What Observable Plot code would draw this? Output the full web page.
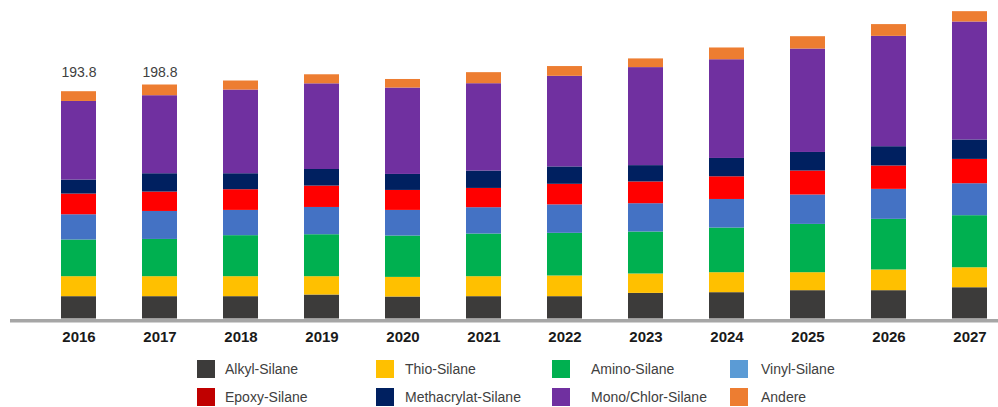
<!DOCTYPE html>
<html>
<head>
<meta charset="utf-8">
<script src="https://cdn.jsdelivr.net/npm/d3@7"></script>
<script src="https://cdn.jsdelivr.net/npm/@observablehq/plot@0.6"></script>
<style>
  html, body { margin: 0; padding: 0; background: #fff; }
  body { width: 998px; height: 407px; overflow: hidden; font-family: "Liberation Sans", Arial, sans-serif; }
  #chart svg { display: block; }
  #chart [aria-label^="x-axis"] text { font-weight: bold; fill: #1a1a1a; }
  #legend { display: grid; grid-template-columns: 179px 176px 178px 200px; row-gap: 10px; margin: 10px 0 0 197px; }
  .item { display: flex; align-items: center; height: 18px; font-size: 14px; color: #404040; }
  .sw { width: 18px; height: 18px; flex: none; }
</style>
</head>
<body>
<div id="chart"></div>
<div id="legend"></div>
<script>
const years = ["2016","2017","2018","2019","2020","2021","2022","2023","2024","2025","2026","2027"];
const seriesNames = ["Alkyl-Silane","Thio-Silane","Amino-Silane","Vinyl-Silane","Epoxy-Silane","Methacrylat-Silane","Mono/Chlor-Silane","Andere"];
const barColors = ["#3c3b3a","#ffc000","#00b050","#4472c4","#ff0000","#002060","#7030a0","#ed7d31"];
const legendColors = ["#3c3b3a","#ffc000","#00b050","#5b9bd5","#c00000","#002060","#7030a0","#ed7d31"];

const alkyl  = [19.0, 19.0, 19.0, 20.4, 18.7, 19.0, 19.0, 21.8, 22.4, 24.1, 24.1, 26.6];
const thio   = [17.0, 17.0, 17.0, 15.6, 16.7, 17.0, 17.6, 16.5, 17.0, 15.3, 17.6, 17.0];
const amino  = [31.2, 31.7, 34.9, 35.7, 35.2, 36.3, 36.3, 35.7, 38.0, 41.1, 43.1, 44.3];
const vinyl  = [21.5, 23.8, 21.5, 23.2, 21.8, 22.4, 24.2, 24.1, 24.3, 25.0, 25.5, 27.2];
const epoxy  = [17.6, 16.5, 17.6, 18.2, 17.0, 16.4, 17.5, 18.5, 19.3, 20.4, 19.9, 20.7];
const meth   = [11.9, 15.6, 13.6, 14.1, 13.6, 14.8, 14.8, 13.9, 15.6, 15.8, 16.4, 16.5];
const mono   = [66.9, 66.4, 71.2, 72.9, 73.5, 74.3, 77.1, 83.4, 84.0, 88.0, 93.9, 100.4];
const andere = [8.3, 9.1, 7.7, 7.7, 7.3, 9.4, 8.3, 7.4, 10.0, 10.5, 10.0, 8.8];

const labelYears = ["2016","2017"];
const labelTexts = ["193.8","198.8"];

const seriesValues = [alkyl, thio, amino, vinyl, epoxy, meth, mono, andere];
const rows = [];
seriesNames.forEach((s, si) => {
  years.forEach((y, yi) => rows.push({year: y, series: s, value: seriesValues[si][yi]}));
});
const totals = years.map((y, yi) => d3.sum(seriesValues, v => v[yi]));
const labelY = d3.max(labelYears, y => totals[years.indexOf(y)]);
const labels = labelYears.map((y, i) => ({year: y, text: labelTexts[i], y: labelY}));

const chart = Plot.plot({
  width: 998,
  height: 350,
  marginLeft: 10,
  marginRight: 0,
  marginTop: 0,
  marginBottom: 31.5,
  style: {fontFamily: '"Liberation Sans", Arial, sans-serif', fontSize: "15px", background: "#fff", overflow: "visible"},
  x: {domain: years, paddingInner: 0.57, paddingOuter: 0.376, align: 0.82, tickSize: 0, tickPadding: 12, label: null},
  y: {domain: [0, 271], axis: null},
  color: {domain: seriesNames, range: barColors},
  marks: [
    Plot.ruleY([0], {stroke: "#a6a6a6", strokeWidth: 3.5, dy: 1.8}),
    Plot.barY(rows, {x: "year", y: "value", fill: "series", order: seriesNames}),
    Plot.text(labels, {x: "year", y: "y", text: "text", dy: -12, fontSize: 14, fill: "#404040"})
  ]
});
document.getElementById("chart").appendChild(chart);

const legend = document.getElementById("legend");
const textGaps = [10, 11, 21, 13];
seriesNames.forEach((name, i) => {
  const item = document.createElement("div");
  item.className = "item";
  const sw = document.createElement("span");
  sw.className = "sw";
  sw.style.background = legendColors[i];
  sw.style.marginRight = textGaps[i % 4] + "px";
  const t = document.createElement("span");
  t.textContent = name;
  item.appendChild(sw);
  item.appendChild(t);
  legend.appendChild(item);
});
</script>
</body>
</html>
